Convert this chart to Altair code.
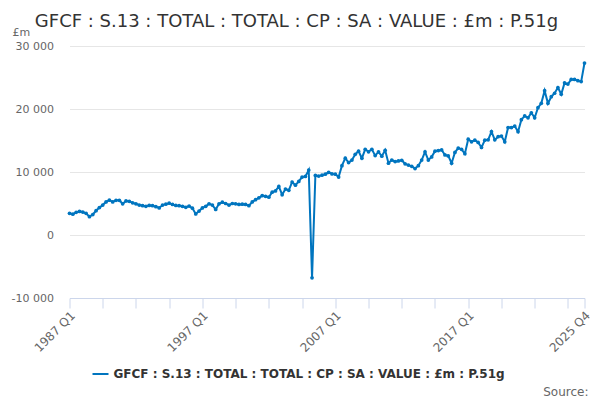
import json
import altair as alt
import pandas as pd

# ---- categories -------------------------------------------------------------
years = list(range(1987, 2026))
quarters = [f"{y} Q{q}" for y in years for q in range(1, 5)]

# ---- series values (£m) --------------------------------------------------------
gfcf_1987_1992 = [3450, 3300, 3600, 3750, 3650, 3450, 2900, 3250, 3850, 4350,
                  4750, 5250, 5550, 5250, 5500, 5500, 4950, 5400, 5350, 5100,
                  4950, 4750]
gfcf_1992_1998 = [4650, 4550, 4700, 4650, 4500, 4300, 4750, 4900, 5050, 4850,
                  4700, 4650, 4550, 4400, 4600, 4250, 3350, 3800, 4300, 4550,
                  4950, 4750, 4050]
gfcf_1998_2005 = [4950, 5200, 5000, 4750, 5000, 4950, 4850, 4900, 4850, 4650,
                  5250, 5600, 5900, 6250, 6150, 6000, 6800, 7000, 7700, 6400,
                  7300, 7100, 8400, 7900, 8500, 9200, 9300, 10300, -6800]
gfcf_2005_2010 = [9450, 9350, 9500, 9650, 9950, 9700, 9650, 9200, 11000, 12200,
                  11500, 11900, 12800, 13300, 12200, 13600, 13200, 13600, 12600,
                  13200, 12500, 13450]
gfcf_2011_2016 = [11400, 11900, 11650, 11750, 11850, 11300, 11100, 10900, 10550,
                  11000, 11900, 13200, 11900, 12400, 13300, 13400, 13500, 12700,
                  12550, 11400, 13100, 13800, 13600, 12900]
gfcf_2017_2025 = [15200, 14800, 15050, 14700, 13900, 15050, 15100, 16400, 15100,
                  15600, 15700, 14800, 17050, 17050, 17300, 16400, 18300, 18900,
                  18600, 19400, 18600, 20200, 20900, 22900, 20900, 21950, 22500,
                  23400, 22350, 24150, 23950, 24700, 24700, 24500, 24350, 27300]

values = (gfcf_1987_1992 + gfcf_1992_1998 + gfcf_1998_2005 + gfcf_2005_2010
          + gfcf_2011_2016 + gfcf_2017_2025)
assert len(values) == len(quarters), (len(values), len(quarters))

series_name = "GFCF : S.13 : TOTAL : TOTAL : CP : SA : VALUE : £m : P.51g"
chart_title = [series_name]
tick_quarters = quarters[::10] + [quarters[-1]]
label_quarters = ["1987 Q1", "1997 Q1", "2007 Q1", "2017 Q1", "2025 Q4"]
y_ticks = [-10000, 0, 10000, 20000, 30000]
y_unit = "£m"
source_text = ["Source:"]

df = pd.DataFrame({"quarter": quarters, "value": values, "series": series_name})

FONT = "DejaVu Sans"
LINE_COLOR = "#0075bf"

x_label_expr = ("indexof(%s, datum.value) >= 0 ? datum.value : ''"
                % json.dumps(label_quarters).replace('"', "'"))
y_label_expr = ("(datum.value < 0 ? '-' : '') + "
                "replace(format(abs(datum.value), ','), ',', ' ')")

line = alt.Chart(df).mark_line(
    strokeWidth=2,
    point=alt.OverlayMarkDef(size=14, filled=True),
).encode(
    x=alt.X(
        "quarter:O", sort=None,
        scale=alt.Scale(type="point", padding=0),
        axis=alt.Axis(
            values=tick_quarters, labelExpr=x_label_expr, labelAngle=315,
            labelAlign="right", labelBaseline="middle", labelPadding=5,
            labelOffset=3,
            labelColor="#666666", labelFontSize=12, labelFont=FONT,
            domainColor="#ccd6eb", tickColor="#ccd6eb", tickSize=10,
            title=None, grid=False, labelOverlap=False,
        ),
    ),
    y=alt.Y(
        "value:Q",
        scale=alt.Scale(domain=[-10000, 30000], nice=False),
        axis=alt.Axis(
            values=y_ticks, labelExpr=y_label_expr, title=y_unit,
            titleAngle=0, titleX=-57.5, titleY=-14, titleAlign="left",
            titleBaseline="middle", titleFontWeight="normal",
            titleColor="#666666", titleFontSize=11, titleFont=FONT,
            domain=False, ticks=False, gridColor="#e6e6e6",
            labelPadding=16, labelColor="#666666", labelFontSize=11,
            labelFont=FONT,
        ),
    ),
    color=alt.Color(
        "series:N",
        scale=alt.Scale(range=[LINE_COLOR]),
        legend=alt.Legend(
            title=None, orient="none", legendX=22, legendY=319,
            symbolType="stroke", symbolStrokeWidth=2, symbolSize=256,
            labelFont=FONT, labelFontWeight="bold", labelFontSize=12,
            labelColor="#333333", labelLimit=0,
        ),
    ),
)

title = alt.Chart(pd.DataFrame({"t": chart_title})).mark_text(
    align="center", baseline="alphabetic", fontSize=18, color="#333333", font=FONT,
).encode(text="t:N", x=alt.value(227), y=alt.value(-19))

source = alt.Chart(pd.DataFrame({"t": source_text})).mark_text(
    align="right", baseline="alphabetic", fontSize=12, color="#666666", font=FONT,
).encode(text="t:N", x=alt.value(519), y=alt.value(350))

chart = alt.layer(line, title, source).properties(
    width=515,
    height=252,
    autosize="none",
    padding={"left": 61.5, "top": 38, "right": 7.5, "bottom": 100},
).configure_view(stroke=None)

chart.save("out.html", embed_options={"renderer": "svg", "actions": False})
